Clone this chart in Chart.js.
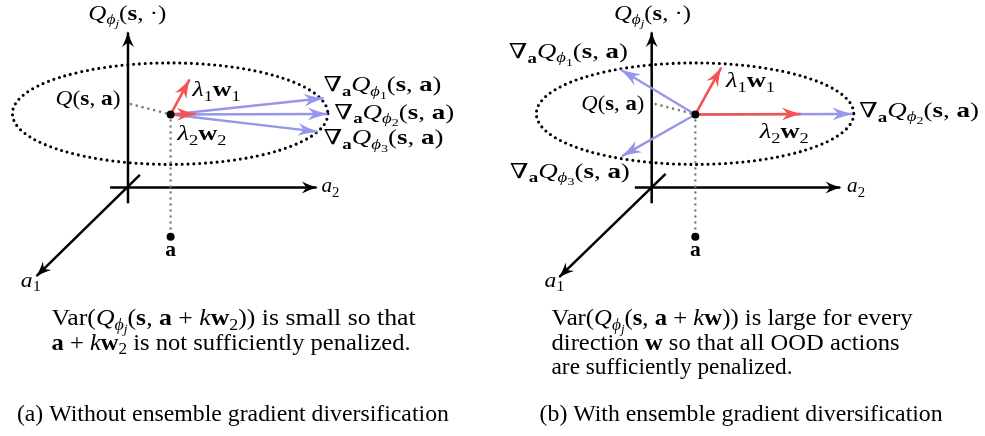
<!DOCTYPE html>
<html>
<head>
<meta charset="utf-8">
<script src="https://cdn.jsdelivr.net/npm/chart.js@4.4.1/dist/chart.umd.min.js"></script>
<style>
  html, body { margin: 0; padding: 0; background: #fff; }
  #c { display: block; }
</style>
</head>
<body>
<canvas id="c" width="985" height="436"></canvas>
<script>
var RED = 'rgb(245,82,82)';
var BLUE = 'rgb(150,150,234)';
var GREY = 'rgb(128,128,128)';
var FONT = '"Liberation Serif", "DejaVu Serif", serif';

// sketch geometry, in figure units (x right, y down)
var axesA = [[[125, 203], [125, 29]], [[107, 187], [315, 187]], [[137, 174], [33, 277]]];
var axesB = [[[653, 203], [653, 29]], [[636, 187], [843, 187]], [[667, 173], [560, 278]]];
var pointA = [168, 112.5];
var pointB = [697, 112.5];
var actionA = [168, 237];
var actionB = [697, 237];
var qGuideA = [128, 102];
var qGuideB = [657, 102];
var gradTipsA = [[322, 96], [326, 112], [316, 130]];
var gradTipsB = [[622, 67], [855, 112], [623, 155]];
var lambdaTipsA = [[187, 77], [193, 112]];
var lambdaTipsB = [[723, 65], [803, 112]];
// cx, cy, rx, ry
var ellipseA = [167.5, 111.7, 159, 51.7];
var ellipseB = [696.7, 111.7, 160, 51.7];

// rich labels: "style:text|style:text", x/y = left baseline, w = width it spans in the figure
var labels = [
  {x: 85, y: 16, s: 21, w: 78, t: 'i:Q|si:ϕ|ssi:j|r:(|b:s|r:, ·)'},
  {x: 52, y: 103, s: 21, w: 65, t: 'i:Q|r:(|b:s|r:, |b:a|r:)'},
  {x: 190, y: 94, s: 21, w: 48, t: 'i:λ|s:1|b:w|s:1'},
  {x: 175, y: 139, s: 21, w: 49, t: 'i:λ|s:2|b:w|s:2'},
  {x: 322, y: 89, s: 21, w: 118, t: 'r:∇|sb:a|i:Q|si:ϕ|ss:1|r:(|b:s|r:, |b:a|r:)'},
  {x: 333, y: 117, s: 21, w: 120, t: 'r:∇|sb:a|i:Q|si:ϕ|ss:2|r:(|b:s|r:, |b:a|r:)'},
  {x: 322, y: 143, s: 21, w: 120, t: 'r:∇|sb:a|i:Q|si:ϕ|ss:3|r:(|b:s|r:, |b:a|r:)'},
  {x: 320, y: 192, s: 20, w: 18, t: 'i:a|s:2'},
  {x: 17, y: 288, s: 20, w: 20, t: 'i:a|s:1'},
  {x: 168, y: 257, s: 21.5, t: 'b:a', a: 'center'},
  {x: 48, y: 327, s: 22.5, w: 364, t: 'r:Var(|i:Q|si:ϕ|ssi:j|r:(|b:s|r:, |b:a|r: + |i:k|b:w|s:2|r:)) is small so that'},
  {x: 48, y: 352, s: 22.5, w: 359, t: 'b:a|r: + |i:k|b:w|s:2|r: is not sufficiently penalized.'},
  {x: 13, y: 425, s: 23.5, w: 432, t: 'r:(a) Without ensemble gradient diversification'},

  {x: 615, y: 16, s: 21, w: 77, t: 'i:Q|si:ϕ|ssi:j|r:(|b:s|r:, ·)'},
  {x: 582, y: 108, s: 21, w: 63, t: 'i:Q|r:(|b:s|r:, |b:a|r:)'},
  {x: 728, y: 85, s: 21, w: 49, t: 'i:λ|s:1|b:w|s:1'},
  {x: 762, y: 137, s: 21, w: 49, t: 'i:λ|s:2|b:w|s:2'},
  {x: 509, y: 55, s: 21, w: 119, t: 'r:∇|sb:a|i:Q|si:ϕ|ss:1|r:(|b:s|r:, |b:a|r:)'},
  {x: 862, y: 115, s: 21, w: 120, t: 'r:∇|sb:a|i:Q|si:ϕ|ss:2|r:(|b:s|r:, |b:a|r:)'},
  {x: 510, y: 177, s: 21, w: 120, t: 'r:∇|sb:a|i:Q|si:ϕ|ss:3|r:(|b:s|r:, |b:a|r:)'},
  {x: 850, y: 192, s: 20, w: 18, t: 'i:a|s:2'},
  {x: 545, y: 288, s: 20, w: 20, t: 'i:a|s:1'},
  {x: 697, y: 257, s: 21.5, t: 'b:a', a: 'center'},
  {x: 552, y: 327, s: 22.5, w: 361, t: 'r:Var(|i:Q|si:ϕ|ssi:j|r:(|b:s|r:, |b:a|r: + |i:k|b:w|r:)) is large for every'},
  {x: 552, y: 352, s: 22.5, w: 348, t: 'r:direction |b:w|r: so that all OOD actions'},
  {x: 552, y: 377, s: 22.5, w: 241, t: 'r:are sufficiently penalized.'},
  {x: 540, y: 425, s: 23.5, w: 403, t: 'r:(b) With ensemble gradient diversification'}
];

var STYLES = {
  r:   {f: '', k: 1, dy: 0},
  i:   {f: 'italic ', k: 1, dy: 0},
  b:   {f: 'bold ', k: 1, dy: 0},
  s:   {f: '', k: 0.7, dy: 0.22},
  si:  {f: 'italic ', k: 0.7, dy: 0.2},
  sb:  {f: 'bold ', k: 0.7, dy: 0.22},
  ss:  {f: '', k: 0.52, dy: 0.36},
  ssi: {f: 'italic ', k: 0.52, dy: 0.36}
};

function xy(p) { return {x: p[0], y: p[1]}; }

var datasets = [];
function addLine(pts, color, width, extra) {
  var ds = {
    data: pts.map(xy),
    showLine: true,
    borderColor: color,
    backgroundColor: color,
    borderWidth: width,
    pointRadius: 0,
    tension: 0,
    fill: false,
    clip: false
  };
  Object.keys(extra || {}).forEach(function (k) { ds[k] = extra[k]; });
  datasets.push(ds);
}

// bottom to top
axesA.concat(axesB).forEach(function (ax) {
  addLine(ax, '#000', 2.5, {arrow: true, headLen: 16, headWid: 12});
});
[[qGuideA, pointA], [pointA, actionA], [qGuideB, pointB], [pointB, actionB]].forEach(function (seg) {
  addLine(seg, GREY, 2.6, {borderDash: [0, 6], borderCapStyle: 'round'});
});
gradTipsA.forEach(function (tip) { addLine([pointA, tip], BLUE, 2.4, {arrow: true, headLen: 21, headWid: 13}); });
gradTipsB.forEach(function (tip) { addLine([pointB, tip], BLUE, 2.4, {arrow: true, headLen: 21, headWid: 13}); });
lambdaTipsA.forEach(function (tip) { addLine([pointA, tip], RED, 2.6, {arrow: true, headLen: 20, headWid: 13}); });
lambdaTipsB.forEach(function (tip) { addLine([pointB, tip], RED, 2.6, {arrow: true, headLen: 20, headWid: 13}); });
datasets.push({
  data: [pointA, actionA, pointB, actionB].map(xy),
  showLine: false,
  pointRadius: 4,
  pointBackgroundColor: '#000',
  pointBorderWidth: 0,
  clip: false
});
datasets.forEach(function (ds, i) { ds.order = datasets.length - i; });

var ellipsePlugin = {
  id: 'ellipses',
  beforeDatasetsDraw: function (chart) {
    var ctx = chart.ctx, sx = chart.scales.x, sy = chart.scales.y;
    [ellipseA, ellipseB].forEach(function (e) {
      var cx = sx.getPixelForValue(e[0]), cy = sy.getPixelForValue(e[1]);
      var rx = Math.abs(sx.getPixelForValue(e[0] + e[2]) - cx);
      var ry = Math.abs(sy.getPixelForValue(e[1] + e[3]) - cy);
      ctx.save();
      ctx.strokeStyle = '#000';
      ctx.lineWidth = 3.1;
      ctx.lineCap = 'round';
      ctx.setLineDash([0, 5.8]);
      ctx.beginPath();
      ctx.ellipse(cx, cy, rx, ry, 0, 0, Math.PI * 2);
      ctx.stroke();
      ctx.restore();
    });
  }
};

var arrowPlugin = {
  id: 'arrowheads',
  afterDatasetDraw: function (chart, args) {
    var ds = chart.data.datasets[args.index];
    if (!ds.arrow) return;
    var pts = args.meta.data;
    var p1 = pts[pts.length - 2], p2 = pts[pts.length - 1];
    var ang = Math.atan2(p2.y - p1.y, p2.x - p1.x);
    var L = ds.headLen, W = ds.headWid;
    var ctx = chart.ctx;
    ctx.save();
    ctx.translate(p2.x, p2.y);
    ctx.rotate(ang);
    ctx.translate(1.5, 0);
    ctx.fillStyle = ds.borderColor;
    ctx.beginPath();
    ctx.moveTo(0, 0);
    ctx.quadraticCurveTo(-L * 0.45, -W * 0.12, -L, -W / 2);
    ctx.lineTo(-L * 0.72, 0);
    ctx.lineTo(-L, W / 2);
    ctx.quadraticCurveTo(-L * 0.45, W * 0.12, 0, 0);
    ctx.closePath();
    ctx.fill();
    ctx.restore();
  }
};

function drawRich(ctx, l, x, y) {
  var size = l.s;
  var parts = l.t.split('|').map(function (p) {
    var k = p.indexOf(':');
    return {st: STYLES[p.slice(0, k)], tx: p.slice(k + 1)};
  });
  var total = 0;
  parts.forEach(function (p) {
    ctx.font = p.st.f + (size * p.st.k) + 'px ' + FONT;
    p.w = ctx.measureText(p.tx).width;
    total += p.w;
  });
  var stretch = l.w ? l.w / total : 1;
  var x0 = l.a === 'center' ? x - total * stretch / 2 : x;
  ctx.save();
  ctx.translate(x0, 0);
  ctx.scale(stretch, 1);
  var cx = 0;
  parts.forEach(function (p) {
    ctx.font = p.st.f + (size * p.st.k) + 'px ' + FONT;
    ctx.fillText(p.tx, cx, y + p.st.dy * size);
    cx += p.w;
  });
  ctx.restore();
}

var textPlugin = {
  id: 'richLabels',
  afterDraw: function (chart) {
    var ctx = chart.ctx, sx = chart.scales.x, sy = chart.scales.y;
    ctx.save();
    ctx.fillStyle = '#000';
    ctx.textBaseline = 'alphabetic';
    ctx.textAlign = 'left';
    labels.forEach(function (l) {
      drawRich(ctx, l, sx.getPixelForValue(l.x), sy.getPixelForValue(l.y));
    });
    ctx.restore();
  }
};

new Chart(document.getElementById('c').getContext('2d'), {
  type: 'scatter',
  data: {datasets: datasets},
  options: {
    responsive: false,
    animation: false,
    events: [],
    layout: {padding: 0},
    plugins: {legend: {display: false}, tooltip: {enabled: false}},
    scales: {
      x: {type: 'linear', min: 0, max: 985, display: false},
      y: {type: 'linear', min: 0, max: 436, reverse: true, display: false}
    }
  },
  plugins: [ellipsePlugin, arrowPlugin, textPlugin]
});
</script>
</body>
</html>
